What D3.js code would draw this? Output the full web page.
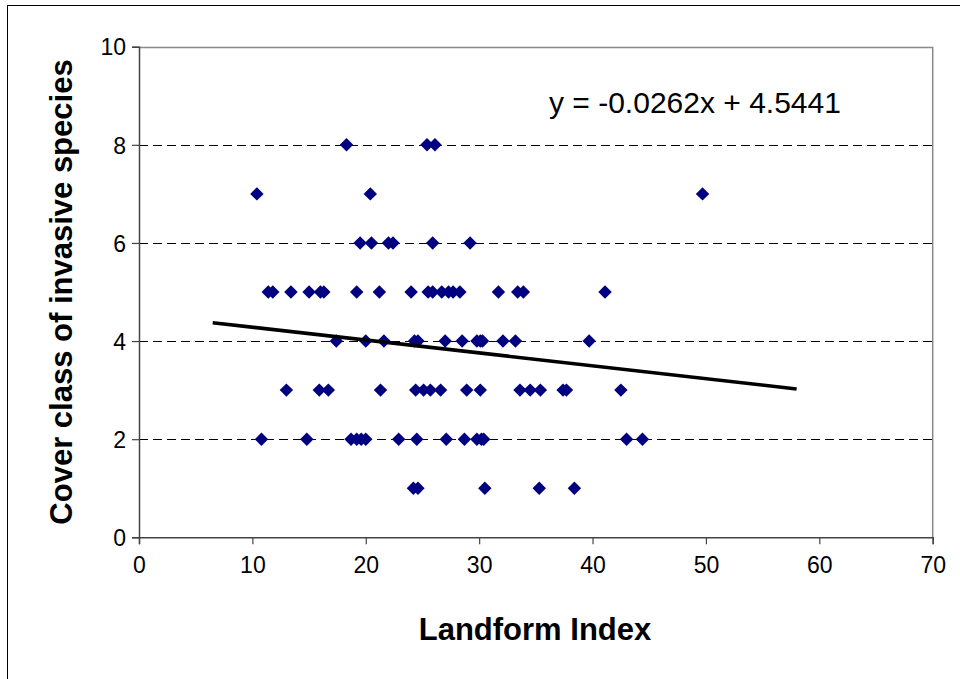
<!DOCTYPE html>
<html>
<head>
<meta charset="utf-8">
<script src="https://cdn.jsdelivr.net/npm/d3@7"></script>
<style>
  html, body { margin: 0; padding: 0; background: #fff; }
  svg { display: block; }
  text { font-family: "Liberation Sans", Arial, sans-serif; fill: #000; }
</style>
</head>
<body>
<svg id="chart" width="960" height="679"></svg>
<script>
// Landform index of each plot, grouped by its invasive-species cover class
const coverClasses = [8, 7, 6, 5, 4, 3, 2, 1];
const landformByClass = [
  [18.3, 25.4, 26.1],
  [10.4, 20.4, 49.7],
  [19.5, 20.5, 22.0, 22.4, 25.9, 29.2],
  [11.4, 11.8, 13.4, 15.0, 16.0, 16.3, 19.2, 21.2, 24.0, 25.5, 25.9, 26.7, 27.3, 27.7, 28.3, 31.7, 33.4, 33.9, 41.1],
  [17.4, 20.0, 21.6, 24.3, 24.6, 27.0, 28.5, 29.8, 30.1, 30.3, 32.1, 33.2, 39.7],
  [13.0, 15.9, 16.7, 21.3, 24.4, 25.1, 25.7, 26.6, 28.9, 30.1, 33.6, 34.5, 35.4, 37.4, 37.7, 42.5],
  [10.8, 14.8, 18.7, 19.2, 19.6, 20.0, 22.9, 24.5, 27.1, 28.7, 29.8, 30.2, 30.4, 43.0, 44.4],
  [24.2, 24.6, 30.5, 35.3, 38.4]
];

// Linear trend fitted to the points
const trendSlope = -0.0262;
const trendIntercept = 4.5441;
const trendRange = [6.5, 58];
const trendLabel = "y = -0.0262x + 4.5441";

const xTicks = [0, 10, 20, 30, 40, 50, 60, 70];
const yTicks = [0, 2, 4, 6, 8, 10];
const xTitle = "Landform Index";
const yTitle = "Cover class of invasive species";

const points = [];
coverClasses.forEach((c, i) => landformByClass[i].forEach(v => points.push({ x: v, y: c })));

const svg = d3.select("#chart");
const plot = { left: 139, right: 932.7, top: 46.7, bottom: 537.3 };

const x = d3.scaleLinear().domain([0, 70]).range([plot.left, plot.right]);
const y = d3.scaleLinear().domain([0, 10]).range([plot.bottom, plot.top]);

// Outer chart frame
svg.append("rect")
  .attr("x", 7.5).attr("y", 5.5)
  .attr("width", 980).attr("height", 700)
  .attr("fill", "none").attr("stroke", "#000").attr("stroke-width", 1);

// Dashed horizontal gridlines
svg.append("g")
  .selectAll("line")
  .data(yTicks.filter(t => t > 0 && t < 10))
  .join("line")
  .attr("x1", plot.left).attr("x2", plot.right)
  .attr("y1", d => Math.round(y(d)) + 0.5).attr("y2", d => Math.round(y(d)) + 0.5)
  .attr("stroke", "#000").attr("stroke-width", 1)
  .attr("stroke-dasharray", "9,5");

// Plot-area frame on top and right
svg.append("path")
  .attr("d", `M${plot.left},${Math.round(plot.top) + 0.5}H${plot.right}V${plot.bottom}`)
  .attr("fill", "none").attr("stroke", "#888").attr("stroke-width", 1.5);

// Axes
const xAxis = svg.append("g")
  .attr("transform", `translate(0,${plot.bottom})`)
  .call(d3.axisBottom(x).tickValues(xTicks).tickSize(7).tickPadding(7).tickFormat(d3.format("d")));
const yAxis = svg.append("g")
  .attr("transform", `translate(${plot.left},0)`)
  .call(d3.axisLeft(y).tickValues(yTicks).tickSize(7).tickPadding(6).tickFormat(d3.format("d")));

[xAxis, yAxis].forEach(g => {
  g.select(".domain").attr("stroke", "#444").attr("stroke-width", 1.5);
  g.selectAll(".tick line").attr("stroke", "#444").attr("stroke-width", 1.2);
  g.selectAll(".tick text")
    .attr("font-family", "Liberation Sans, Arial, sans-serif")
    .attr("font-size", 23).attr("fill", "#000");
});
xAxis.selectAll(".tick text").attr("dy", "0.95em");
yAxis.selectAll(".tick text").attr("dy", "0.36em");

// Scatter points as diamonds
const diamond = d3.symbol().type(d3.symbolDiamond2).size(115);
svg.append("g")
  .selectAll("path")
  .data(points)
  .join("path")
  .attr("d", diamond)
  .attr("transform", d => `translate(${x(d.x)},${y(d.y)})`)
  .attr("fill", "#000080");

// Trendline
svg.append("line")
  .attr("x1", x(trendRange[0])).attr("y1", y(trendSlope * trendRange[0] + trendIntercept))
  .attr("x2", x(trendRange[1])).attr("y2", y(trendSlope * trendRange[1] + trendIntercept))
  .attr("stroke", "#000").attr("stroke-width", 3.6);

// Trend equation
svg.append("text")
  .attr("x", 549).attr("y", 113)
  .attr("font-size", 30)
  .text(trendLabel);

// Axis titles
svg.append("text")
  .attr("x", 535).attr("y", 640)
  .attr("text-anchor", "middle")
  .attr("font-size", 31).attr("font-weight", "bold")
  .text(xTitle);

svg.append("text")
  .attr("transform", `translate(72,${(plot.top + plot.bottom) / 2}) rotate(-90)`)
  .attr("text-anchor", "middle")
  .attr("font-size", 31).attr("font-weight", "bold")
  .text(yTitle);
</script>
</body>
</html>
